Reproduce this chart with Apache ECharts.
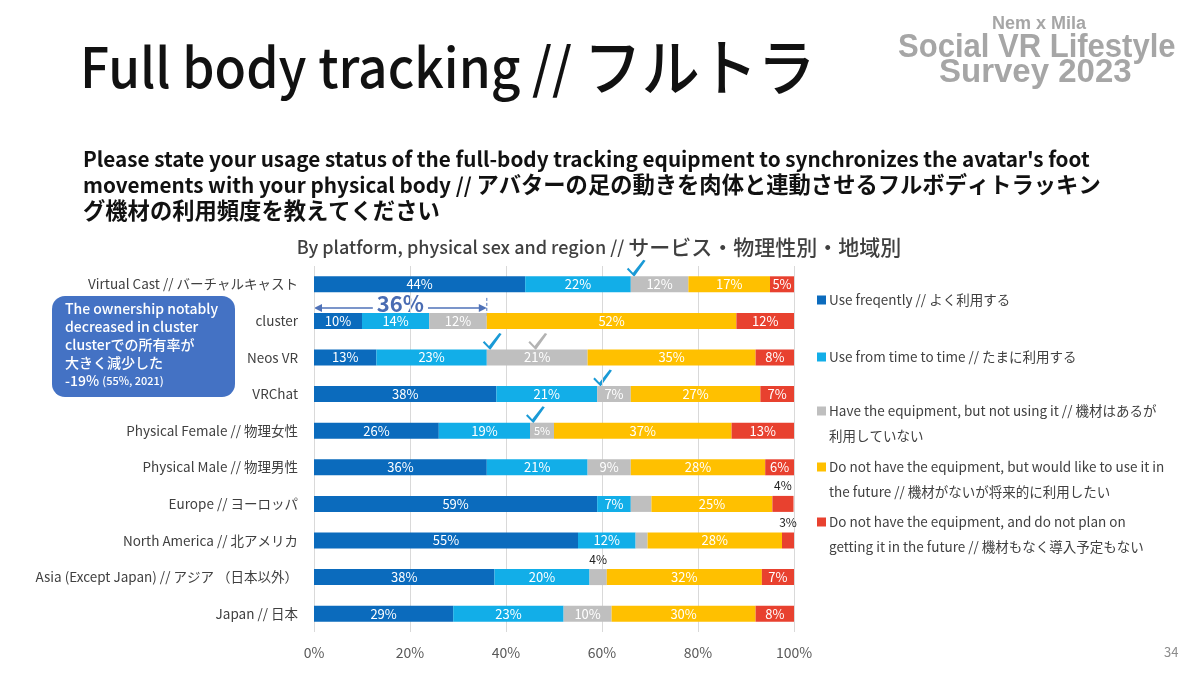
<!DOCTYPE html>
<html>
<head>
<meta charset="utf-8">
<script src="https://cdn.jsdelivr.net/npm/echarts@6/dist/echarts.min.js"></script>
<style>
html,body{margin:0;padding:0;background:#fff;}
#main{width:1200px;height:675px;}
</style>
</head>
<body>
<div id="main"></div>
<script>
// ---- data ----
const categories = [
  'Virtual Cast // バーチャルキャスト',
  'cluster',
  'Neos VR',
  'VRChat',
  'Physical Female // 物理女性',
  'Physical Male // 物理男性',
  'Europe // ヨーロッパ',
  'North America // 北アメリカ',
  'Asia (Except Japan) // アジア （日本以外）',
  'Japan // 日本'
];
const seriesNames = [
  'Use freqently // よく利用する',
  'Use from time to time // たまに利用する',
  'Have the equipment, but not using it // 機材はあるが利用していない',
  'Do not have the equipment, but would like to use it in the future // 機材がないが将来的に利用したい',
  'Do not have the equipment, and do not plan on getting it in the future // 機材もなく導入予定もない'
];
const useFrequently = [44, 10, 13, 38, 26, 36, 59, 55, 37.6, 29];
const useSometimes  = [22, 14, 23, 21, 19, 21, 7, 12, 19.8, 23];
const haveNotUsing  = [12, 12, 21, 7, 5, 9, 4.3, 2.5, 3.6, 10];
const wouldLike     = [17, 52, 35, 27, 37, 28, 25.2, 28, 32.3, 30];
const noPlan        = [5, 12, 8, 7, 13, 6, 4.4, 2.8, 6.7, 8];
const xTicks = [0, 20, 40, 60, 80, 100];

const legendLine1 = [
  'Use freqently // よく利用する',
  'Use from time to time // たまに利用する',
  'Have the equipment, but not using it // 機材はあるが',
  'Do not have the equipment, but would like to use it in',
  'Do not have the equipment, and do not plan on'
];
const legendLine2 = ['', '', '利用していない', 'the future // 機材がないが将来的に利用したい', 'getting it in the future // 機材もなく導入予定もない'];

// ---- styles ----
const FONT = "'Noto Sans CJK JP', 'Noto Sans', sans-serif";
const LOGO_FONT = "'Liberation Sans', Arial, sans-serif";
const colors = ['#0b6bbd', '#12aee8', '#bfbfbf', '#ffc000', '#e8412f'];
const allValues = [useFrequently, useSometimes, haveNotUsing, wouldLike, noPlan];

const aboveLabels = { '4-6': true, '4-7': true, '2-8': true };
const hiddenLabels = { '2-6': true, '2-7': true };
const smallLabels = { '2-4': true };

function buildSeries() {
  return allValues.map((arr, si) => ({
    name: seriesNames[si],
    type: 'bar',
    stack: 'total',
    barWidth: 16,
    itemStyle: { color: colors[si] },
    label: {
      show: true,
      position: 'inside',
      color: '#fff',
      fontSize: 13,
      fontFamily: FONT,
      formatter: p => Math.round(p.value) + '%'
    },
    data: arr.map((v, ci) => {
      const key = si + '-' + ci;
      const item = { value: v };
      if (hiddenLabels[key]) item.label = { show: false };
      else if (aboveLabels[key]) item.label = { show: true, position: 'top', color: '#222', fontSize: 12, distance: 4 };
      else if (smallLabels[key]) item.label = { show: true, fontSize: 11 };
      return item;
    })
  }));
}

const legendTops = [300, 357, 411, 467, 522];
const legends = seriesNames.map((n, i) => ({
  data: [n],
  left: 812,
  top: legendTops[i] - 14,
  orient: 'vertical',
  icon: 'rect',
  itemWidth: 9,
  itemHeight: 9,
  itemGap: 0,
  selectedMode: false,
  formatter: () => legendLine1[i],
  textStyle: { fontFamily: FONT, fontSize: 13.5, color: '#404040', lineHeight: 18, padding: [0, 0, 0, -2] }
}));

// split text into latin / CJK runs for rich text sizing
function mixRich(str) {
  return str.replace(/([\u3000-\u30ff\u4e00-\u9fff\uff00-\uffef]+)/g, '{j|$1}');
}

const chart = echarts.init(document.getElementById('main'));

const staticGraphics = [
  { type: 'text', x: 80, y: 36, scaleX: 0.935, style: { text: mixRich('Full body tracking // フルトラ'), font: "500 55px " + FONT, fill: '#111',
      rich: { j: { font: "500 62px " + FONT, fill: '#111' } } } },
  { type: 'text', x: 83, y: 146, style: {
      text: mixRich("Please state your usage status of the full-body tracking equipment to synchronizes the avatar's foot") + '\n' +
            mixRich("movements with your physical body // アバターの足の動きを肉体と連動させるフルボディトラッキン") + '\n' +
            mixRich("グ機材の利用頻度を教えてください"),
      font: "bold 20.7px " + FONT, lineHeight: 26, fill: '#111',
      rich: { j: { font: "bold 22.3px " + FONT, fill: '#111', lineHeight: 26 } } } },
  { type: 'text', x: 599, y: 237, style: { text: mixRich('By platform, physical sex and region // サービス・物理性別・地域別'), font: "500 18px " + FONT, fill: '#404040', align: 'center',
      rich: { j: { font: "500 21px " + FONT, fill: '#404040' } } } },
  // logo
  { type: 'text', x: 992, y: 15, scaleX: 1.0, style: { text: 'Nem x Mila', font: "bold 18px " + LOGO_FONT, fill: '#a6a6a6' } },
  { type: 'text', x: 898, y: 31, scaleX: 0.94, style: { text: 'Social VR Lifestyle', font: "bold 33px " + LOGO_FONT, fill: '#a6a6a6' } },
  { type: 'text', x: 939, y: 56, scaleX: 1.0, style: { text: 'Survey 2023', font: "bold 33px " + LOGO_FONT, fill: '#a6a6a6' } },
  { type: 'text', x: 1164, y: 646, style: { text: '34', font: "13px " + FONT, fill: '#8c8c8c' } },
  // annotation box
  { type: 'rect', x: 52, y: 296, shape: { width: 183, height: 101, r: 13 }, style: { fill: '#4472c4' } },
  { type: 'text', x: 65, y: 300, style: {
      text: 'The ownership notably\ndecreased in cluster\nclusterでの所有率が\n大きく減少した\n{a|-19%} {b|(55%, 2021)}',
      font: "500 14px " + FONT, fill: '#fff', lineHeight: 18,
      rich: { a: { font: "500 14px " + FONT, fill: '#fff' }, b: { font: "500 11px " + FONT, fill: '#fff' } } } },
  ...legendLine2.map((t, i) => t ? { type: 'text', x: 829, y: legendTops[i] + 25 - 9, style: { text: t, font: "13.5px " + FONT, fill: '#404040', lineHeight: 18 } } : null).filter(Boolean)
];

chart.setOption({
  animation: false,
  textStyle: { fontFamily: FONT },
  grid: { left: 314, right: 406, top: 266, bottom: 43, containLabel: false },
  legend: legends,
  xAxis: {
    type: 'value', min: 0, max: 100, interval: 20,
    axisLabel: { formatter: v => xTicks.indexOf(v) >= 0 ? v + '%' : '', fontSize: 14, color: '#595959', margin: 14, fontFamily: FONT },
    splitLine: { lineStyle: { color: '#d9d9d9' } },
    axisLine: { show: false }, axisTick: { show: false }
  },
  yAxis: {
    type: 'category', data: categories, inverse: true,
    axisLabel: { fontSize: 13.5, color: '#404040', margin: 16, fontFamily: FONT },
    axisLine: { show: false }, axisTick: { show: false }
  },
  series: buildSeries(),
  graphic: staticGraphics
});

// annotations computed from data coordinates
function px(x, ci) { return chart.convertToPixel({ gridIndex: 0 }, [x, ci]); }
const checks = [];
function addCheck(x, ci, color) {
  const p = px(x, ci);
  const vx = p[0] + 2, vy = p[1] - 8;
  const pts = [[-6, -7], [-4.5, -8.5], [0.2, -3.5], [10.5, -16.5], [12.8, -15.5], [1.4, 0.5]].map(q => [vx + q[0], vy + q[1]]);
  checks.push({ type: 'polygon', shape: { points: pts }, style: { fill: color } });
}
addCheck(useFrequently[0] + useSometimes[0], 0, '#1a9ad6');
addCheck(useFrequently[2] + useSometimes[2], 2, '#1a9ad6');
addCheck(useFrequently[2] + useSometimes[2] + haveNotUsing[2] / 2 - 1, 2, '#b3b3b3');
addCheck(useFrequently[3] + useSometimes[3], 3, '#1a9ad6');
addCheck(useFrequently[4] + useSometimes[4], 4, '#1a9ad6');

const owned = useFrequently[1] + useSometimes[1] + haveNotUsing[1];
const a0 = px(0, 1), a1 = px(owned, 1);
const ay = a0[1] - 13;
const arrowColor = '#4f72b8';
const arrowEls = [
  { type: 'line', shape: { x1: a0[0] + 2, y1: ay, x2: a1[0] - 2, y2: ay }, style: { stroke: arrowColor, lineWidth: 1.5 } },
  { type: 'polygon', shape: { points: [[a0[0], ay], [a0[0] + 8, ay - 4], [a0[0] + 8, ay + 4]] }, style: { fill: arrowColor } },
  { type: 'polygon', shape: { points: [[a1[0], ay], [a1[0] - 8, ay - 4], [a1[0] - 8, ay + 4]] }, style: { fill: arrowColor } },
  { type: 'line', shape: { x1: a1[0], y1: ay - 10, x2: a1[0], y2: ay + 8 }, style: { stroke: arrowColor, lineWidth: 1, lineDash: [3, 2] } },
  { type: 'text', x: (a0[0] + a1[0]) / 2, y: ay - 4, style: { text: Math.round(owned) + '%', font: "bold 22px " + FONT, fill: '#4a6cb3', align: 'center', verticalAlign: 'middle', backgroundColor: '#fff', padding: [0, 4] } }
];

chart.setOption({ graphic: staticGraphics.concat(checks, arrowEls) });
</script>
</body>
</html>
